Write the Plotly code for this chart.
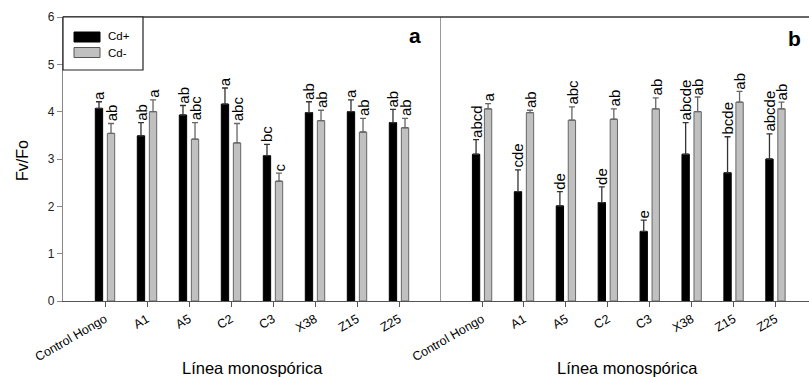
import plotly.graph_objects as go

categories = ["Control Hongo", "A1", "A5", "C2", "C3", "X38", "Z15", "Z25"]

# Panel a
a_cdplus = [4.07, 3.49, 3.93, 4.16, 3.07, 3.98, 4.00, 3.77]
a_cdplus_err = [0.14, 0.28, 0.20, 0.34, 0.24, 0.23, 0.25, 0.28]
a_cdminus = [3.54, 4.00, 3.42, 3.34, 2.53, 3.81, 3.57, 3.66]
a_cdminus_err = [0.21, 0.25, 0.35, 0.41, 0.17, 0.22, 0.29, 0.20]
a_let_plus = ["a", "ab", "ab", "a", "bc", "ab", "a", "ab"]
a_let_minus = ["ab", "a", "abc", "abc", "c", "ab", "ab", "ab"]

# Panel b
b_cdplus = [3.10, 2.31, 2.01, 2.08, 1.47, 3.10, 2.71, 3.00]
b_cdplus_err = [0.31, 0.46, 0.30, 0.33, 0.24, 0.67, 0.76, 0.53]
b_cdminus = [4.06, 3.98, 3.82, 3.84, 4.06, 4.00, 4.20, 4.06]
b_cdminus_err = [0.11, 0.05, 0.28, 0.22, 0.23, 0.31, 0.23, 0.14]
b_let_plus = ["abcd", "cde", "de", "de", "e", "abcde", "bcde", "abcde"]
b_let_minus = ["a", "ab", "abc", "ab", "ab", "ab", "ab", "ab"]

W, H = 809, 377
ML, MT, MB = 63, 17, 76
PW = W - ML
PH = H - MT - MB


def px(x):
    return (x - ML) / PW


def py(y):
    return (MT + PH - y) / PH


split = px(441)

fig = go.Figure()

BLACK_ERR = "#333333"
GRAY_ERR = "#666666"


def add_panel(xa, ya, plus, plus_err, minus, minus_err):
    fig.add_trace(go.Bar(
        x=categories, y=plus, xaxis=xa, yaxis=ya, name="Cd+",
        marker=dict(color="black", line=dict(color="black", width=1)),
        error_y=dict(type="data", symmetric=False, array=plus_err,
                     arrayminus=[0] * len(plus), color=BLACK_ERR,
                     thickness=1.3, width=3),
        showlegend=False))
    fig.add_trace(go.Bar(
        x=categories, y=minus, xaxis=xa, yaxis=ya, name="Cd-",
        marker=dict(color="#c0c0c0", line=dict(color="#666666", width=1)),
        error_y=dict(type="data", symmetric=False, array=minus_err,
                     arrayminus=[0] * len(minus), color=GRAY_ERR,
                     thickness=1.3, width=3),
        showlegend=False))


add_panel("x", "y", a_cdplus, a_cdplus_err, a_cdminus, a_cdminus_err)
add_panel("x2", "y2", b_cdplus, b_cdplus_err, b_cdminus, b_cdminus_err)

annotations = []
OFF = 0.15
FONT = "Arial, Liberation Sans"


def add_letters(xref, yref, vals, errs, letters, sign):
    for i, (v, e, t) in enumerate(zip(vals, errs, letters)):
        annotations.append(dict(
            x=i + sign * OFF, y=v + e, xref=xref, yref=yref, text=t,
            showarrow=False, textangle=-90, xanchor="center", yanchor="bottom",
            font=dict(family=FONT, size=15, color="black")))


add_letters("x", "y", a_cdplus, a_cdplus_err, a_let_plus, -1)
add_letters("x", "y", a_cdminus, a_cdminus_err, a_let_minus, 1)
add_letters("x2", "y2", b_cdplus, b_cdplus_err, b_let_plus, -1)
add_letters("x2", "y2", b_cdminus, b_cdminus_err, b_let_minus, 1)


def paper_text(x, y, text, size, angle=0, xanchor="center"):
    annotations.append(dict(x=px(x), y=py(y), xref="paper", yref="paper", text=text,
                            textangle=angle, showarrow=False, xanchor=xanchor, yanchor="middle",
                            font=dict(family=FONT, size=size, color="black")))


paper_text(415, 35, "<b>a</b>", 21)
paper_text(794, 38, "<b>b</b>", 21)
paper_text(22, 161, "Fv/Fo", 16, angle=-90)
paper_text(252, 368, "Línea monospórica", 16.5)
paper_text(627, 368, "Línea monospórica", 16.5)
paper_text(106, 36.5, "Cd+", 11.5, xanchor="left")
paper_text(106, 52.5, "Cd-", 11.5, xanchor="left")

shapes = [
    dict(type="line", xref="paper", yref="paper", x0=0, x1=1, y0=1, y1=1,
         line=dict(color="#333333", width=1.3)),
    dict(type="rect", xref="paper", yref="paper", x0=px(63), x1=px(143), y0=py(70), y1=py(17),
         line=dict(color="#222222", width=1.2), fillcolor="white"),
    dict(type="rect", xref="paper", yref="paper", x0=px(74), x1=px(100), y0=py(42), y1=py(32),
         line=dict(color="black", width=1), fillcolor="black"),
    dict(type="rect", xref="paper", yref="paper", x0=px(74), x1=px(100), y0=py(57.5), y1=py(47.5),
         line=dict(color="#555555", width=1), fillcolor="#c0c0c0"),
]

xaxis_common = dict(
    showline=True, linecolor="#555555", linewidth=1.3, ticks="outside", ticklen=5,
    tickcolor="#555555", tickangle=-30, showgrid=False, zeroline=False, automargin=False,
    tickfont=dict(family=FONT, size=12.5, color="black"), type="category",
)

fig.update_layout(
    width=W, height=H,
    margin=dict(l=ML, r=0, t=MT, b=MB, autoexpand=False),
    paper_bgcolor="white", plot_bgcolor="white",
    barmode="group", bargap=0.427, bargroupgap=0.39,
    xaxis=dict(domain=[0, split], range=[-1, 8], anchor="y", **xaxis_common),
    xaxis2=dict(domain=[split, 1], range=[-0.98, 7.8], anchor="y2", **xaxis_common),
    yaxis=dict(domain=[0, 1], range=[0, 6], anchor="x", showline=True, linecolor="#888888",
               linewidth=1.3, ticks="outside", ticklen=5, tickcolor="#888888", automargin=False,
               tickvals=[0, 1, 2, 3, 4, 5, 6], showgrid=False, zeroline=False,
               tickfont=dict(family=FONT, size=12, color="#222222")),
    yaxis2=dict(domain=[0, 1], range=[0, 6], anchor="x2", showline=True, linecolor="#999999",
                linewidth=1.3, ticks="", showticklabels=False, showgrid=False, zeroline=False,
                automargin=False),
    annotations=annotations,
    shapes=shapes,
)

fig.write_html("out.html", config={"displayModeBar": False},
               post_script="document.body.style.margin='0';document.body.style.overflow='hidden';")
